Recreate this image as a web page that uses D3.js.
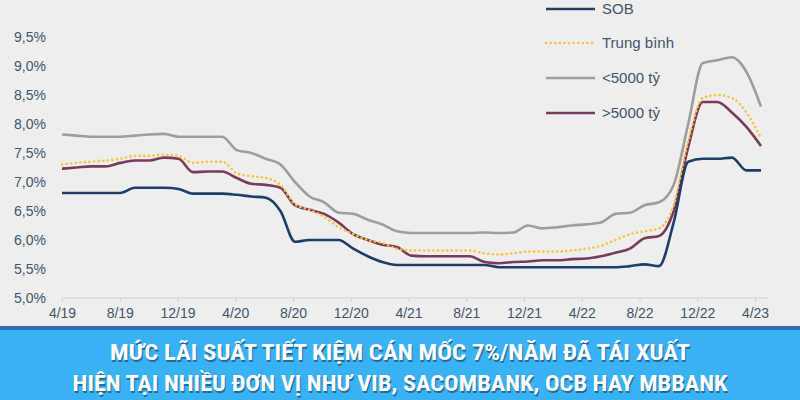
<!DOCTYPE html>
<html><head><meta charset="utf-8">
<script src="https://cdn.jsdelivr.net/npm/d3@7"></script>
<style>body{margin:0;background:#eeeeee}svg{display:block}</style>
</head><body><svg width="800" height="400"></svg>
<script>
const tickLabels=["4/19","8/19","12/19","4/20","8/20","12/20","4/21","8/21","12/21","4/22","8/22","12/22","4/23"];
const yTicks=[5.0,5.5,6.0,6.5,7.0,7.5,8.0,8.5,9.0,9.5];
// monthly values, 4/19 .. 4/23 (49 months)
const sob=[6.81,6.81,6.81,6.81,6.81,6.9,6.9,6.9,6.88,6.8,6.8,6.8,6.78,6.75,6.73,6.5,5.97,6.0,6.0,6.0,5.85,5.72,5.62,5.57,5.57,5.57,5.57,5.57,5.57,5.57,5.53,5.53,5.53,5.53,5.53,5.53,5.53,5.53,5.53,5.55,5.58,5.55,6.3,7.35,7.4,7.4,7.42,7.2,7.2];
const avg=[7.3,7.33,7.35,7.37,7.4,7.45,7.45,7.47,7.45,7.33,7.35,7.35,7.15,7.1,7.07,6.95,6.62,6.52,6.4,6.22,6.1,6.0,5.95,5.85,5.82,5.82,5.82,5.82,5.82,5.77,5.75,5.77,5.8,5.8,5.8,5.82,5.85,5.9,6.0,6.1,6.15,6.2,6.6,7.7,8.45,8.5,8.45,8.2,7.75];
const small=[7.82,7.8,7.78,7.78,7.78,7.8,7.82,7.83,7.78,7.78,7.78,7.78,7.55,7.5,7.4,7.3,7.0,6.75,6.65,6.47,6.45,6.35,6.27,6.15,6.12,6.12,6.12,6.12,6.12,6.13,6.12,6.13,6.25,6.2,6.22,6.25,6.27,6.3,6.45,6.47,6.6,6.65,6.95,8.0,9.05,9.1,9.15,8.9,8.3];
const large=[7.23,7.25,7.27,7.27,7.33,7.37,7.37,7.42,7.4,7.17,7.18,7.18,7.07,6.97,6.95,6.9,6.6,6.52,6.45,6.3,6.1,6.0,5.92,5.88,5.73,5.72,5.72,5.72,5.72,5.62,5.6,5.62,5.63,5.65,5.65,5.67,5.68,5.72,5.78,5.85,6.03,6.07,6.5,7.6,8.38,8.38,8.2,7.95,7.62];
const seriesNames=["SOB","Trung bình","<5000 tỷ",">5000 tỷ"];
const seriesData=[sob,avg,small,large];
const colors=["#1f3e66","#f6c443","#9d9d9d","#7b3a5a"];
const svg=d3.select("svg");
const x=d3.scaleLinear().domain([0,48]).range([62,755]);
const xd=d3.scaleLinear().domain([0,48]).range([62,761]);
const y=d3.scaleLinear().domain([5,9.5]).range([298,37]);
const txt="#44546a";
svg.append("line").attr("x1",62).attr("x2",768).attr("y1",y(5)).attr("y2",y(5)).attr("stroke","#d0d0d0");
const xg=svg.append("g").attr("transform",`translate(0,${y(5)})`)
 .call(d3.axisBottom(x).tickValues(d3.range(0,49,4)).tickFormat((d,i)=>tickLabels[i]).tickSize(4));
xg.select(".domain").remove();
xg.selectAll("line").attr("stroke","#d0d0d0");
xg.selectAll("text").attr("fill",txt).attr("font-size",14).attr("font-family","Liberation Sans, Arial").attr("dy","0.9em");
const yg=svg.append("g").attr("transform","translate(49,0)")
 .call(d3.axisLeft(y).tickValues(yTicks).tickFormat(d=>d.toFixed(1).replace(".",",")+"%").tickSize(0));
yg.select(".domain").remove();
yg.selectAll("text").attr("fill",txt).attr("font-size",14).attr("font-family","Liberation Sans, Arial").attr("dy","0.35em");
const line=d3.line().x((d,i)=>xd(i)).y(d=>y(d)).curve(d3.curveMonotoneX);
[2,3,1,0].forEach(k=>{
 svg.append("path").datum(seriesData[k]).attr("d",line).attr("fill","none")
  .attr("stroke",colors[k]).attr("stroke-width",2.6)
  .attr("stroke-dasharray",k==1?"0.1,4.5":null).attr("stroke-linecap",k==1?"round":"butt");
});
const ly=[9,43,78,113];
seriesNames.forEach((n,k)=>{
 svg.append("line").attr("x1",546).attr("x2",595).attr("y1",ly[k]).attr("y2",ly[k])
  .attr("stroke",colors[k]).attr("stroke-width",2.6).attr("stroke-dasharray",k==1?"0.1,4.5":null).attr("stroke-linecap",k==1?"round":"butt");
 svg.append("text").attr("x",602).attr("y",ly[k]).attr("dy","0.35em").text(n)
  .attr("fill",txt).attr("font-size",15).attr("font-family","Liberation Sans, Arial");
});
svg.append("rect").attr("x",0).attr("y",326).attr("width",800).attr("height",74).attr("fill","#38b2f2");
svg.append("rect").attr("x",0).attr("y",326).attr("width",800).attr("height",4).attr("fill","#2a6db3");
const lines=["MỨC LÃI SUẤT TIẾT KIỆM CÁN MỐC 7%/NĂM ĐÃ TÁI XUẤT","HIỆN TẠI NHIỀU ĐƠN VỊ NHƯ VIB, SACOMBANK, OCB HAY MBBANK"];
const widths=[580,655];
lines.forEach((t,i)=>{
 const ty=i==0?360:391;
 [["#1a3a5a",401,1.5,0.6],["#ffffff",400,0,1]].forEach(([c,xx,off,op])=>{
  svg.append("text").attr("x",xx).attr("y",ty+off).attr("text-anchor","middle").text(t)
   .attr("fill",c).attr("opacity",op).attr("font-size",22).attr("font-weight","bold")
   .attr("font-family","Liberation Sans Narrow, Roboto Condensed, Arial Narrow, sans-serif")
   .attr("textLength",widths[i]).attr("lengthAdjust","spacingAndGlyphs");
 });
});
</script></body></html>
